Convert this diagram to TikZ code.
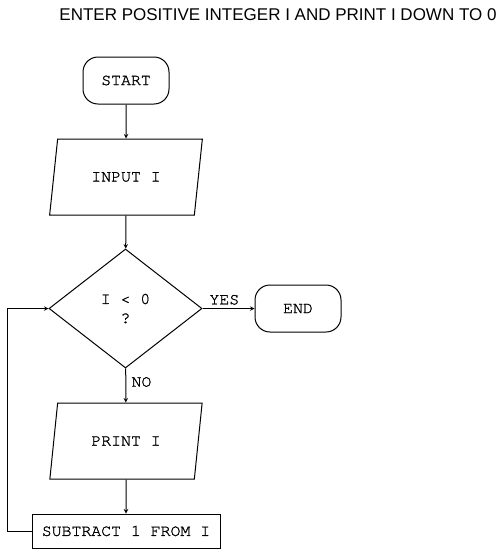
\documentclass[tikz,border=0pt]{standalone}
\usepackage{fontspec}
\setsansfont{Liberation Sans}
\newfontfamily\flowfont{texgyrecursor-regular.otf}[FakeBold=1.2]
\usetikzlibrary{shapes.geometric}

\begin{document}
\begin{tikzpicture}[x=1pt, y=-1pt, line width=1pt,
      every node/.style={font=\flowfont\fontsize{16.5}{19}\selectfont},
      terminal/.style={draw, rounded corners=15pt, minimum width=86pt, minimum height=47pt, inner sep=0pt},
      io/.style={draw, trapezium, trapezium left angle=67, trapezium right angle=113, trapezium stretches=true, minimum width=153pt, minimum height=76pt, inner sep=0pt},
      decision/.style={draw, diamond, minimum width=153pt, minimum height=119pt, inner sep=0pt, align=center},
      process/.style={draw, minimum width=188pt, minimum height=34pt, inner sep=0pt}]
      \useasboundingbox (0,0) rectangle (501,555);
      \node[font=\sffamily\fontsize{17}{19}\selectfont, anchor=base] (title) at (278,20.5) {ENTER POSITIVE INTEGER I AND PRINT I DOWN TO 0};
      \node[terminal] (start) at (126,80.5) {START};
      \node[io] (input) at (126,177) {INPUT I};
      \node[decision] (test) at (125.5,308.5) {I < 0\\?};
      \node[terminal] (end) at (298,308.5) {END};
      \node[io] (print) at (126,441) {PRINT I};
      \node[process] (sub) at (126,531) {SUBTRACT 1 FROM I};
      \coordinate (back) at (7,531);
      \path[-stealth]
        (start) edge (input)
        (input) edge (test)
        (test) edge node [above, pos=0.42] {YES} (end)
        (test) edge node [right, pos=0.4, xshift=2pt] {NO} (print)
        (print) edge (sub)
        ;
      \draw[-stealth] (sub.west) -- (back) |- (test.west);
    \end{tikzpicture}
\end{document}
